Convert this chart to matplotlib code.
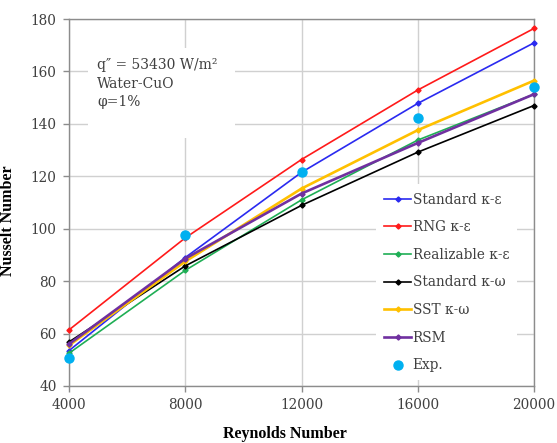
import matplotlib
matplotlib.use("Agg")
import matplotlib.pyplot as plt
from matplotlib.patches import Rectangle

# Reynolds numbers and Nusselt numbers
reynolds = [4000, 8000, 12000, 16000, 20000]
std_ke = [53.5, 89.0, 121.5, 147.8, 170.9]
rng_ke = [61.4, 96.5, 126.4, 152.9, 176.4]
real_ke = [52.5, 84.1, 111.0, 133.8, 151.3]
std_kw = [56.8, 85.8, 108.9, 129.2, 147.0]
sst_kw = [55.5, 87.5, 115.3, 137.6, 156.5]
rsm = [56.0, 88.6, 113.4, 132.7, 151.3]
exp_nu = [50.8, 97.6, 121.5, 142.3, 154.1]

series = [
    ("Standard κ-ε", std_ke, "#2a2af0", 1.2),
    ("RNG κ-ε", rng_ke, "#ff1a1a", 1.2),
    ("Realizable κ-ε", real_ke, "#1fae55", 1.2),
    ("Standard κ-ω", std_kw, "#000000", 1.2),
    ("SST κ-ω", sst_kw, "#ffc000", 1.9),
    ("RSM", rsm, "#7030a0", 1.9),
]

serif = ["DejaVu Serif", "DejaVu Sans"]
txt_col = "#404040"

fig = plt.figure(figsize=(5.57, 4.43), dpi=100)
ax = fig.add_axes([0.1239, 0.1287, 0.8348, 0.8284])

for label, vals, col, lw in series:
    ax.plot(reynolds, vals, color=col, lw=lw, marker="D", ms=2.6,
            label=label, zorder=3, clip_on=False)
ax.plot(reynolds, exp_nu, ls="none", marker="o", ms=6.5, color="#00b0f0",
        label="Exp.", zorder=4, clip_on=False)

ax.set_xlim(4000, 20000)
ax.set_ylim(40, 180)
ax.set_xticks(reynolds)
ax.set_yticks(range(40, 181, 20))
ax.grid(True, color="#d0d0d0", lw=1.0, zorder=0)
ax.set_axisbelow(True)
for s in ax.spines.values():
    s.set_color("#8c8c8c")
    s.set_linewidth(1.0)
ax.tick_params(direction="out", length=4, color="#8c8c8c", width=1.0,
               labelcolor=txt_col, labelsize=9.8, pad=5)
for lab in ax.get_xticklabels() + ax.get_yticklabels():
    lab.set_family(serif)

# white patch behind the annotation
ax.add_patch(Rectangle((0.041, 0.676), 0.316, 0.245, transform=ax.transAxes,
                       facecolor="white", edgecolor="none", zorder=1))
ax.text(0.0602, 0.874, "q″ = 53430 W/m²", transform=ax.transAxes,
        family=serif, fontsize=10, color=txt_col, va="center", zorder=2)
ax.text(0.0602, 0.824, "Water-CuO", transform=ax.transAxes,
        family=serif, fontsize=10, color=txt_col, va="center", zorder=2)
ax.text(0.0602, 0.774, "φ=1%", transform=ax.transAxes,
        family=serif, fontsize=10, color=txt_col, va="center", zorder=2)

leg = ax.legend(loc="lower left", bbox_to_anchor=(0.66, 0.015),
                prop={"family": serif, "size": 9.8}, frameon=True,
                handlelength=2.0, handletextpad=0.1, labelspacing=1.0,
                borderpad=0.6, borderaxespad=0.0)
leg.get_frame().set_facecolor("white")
leg.get_frame().set_edgecolor("none")
leg.get_frame().set_alpha(1.0)
for t in leg.get_texts():
    t.set_color(txt_col)

ax.set_xlabel("Reynolds Number", family="Liberation Serif",
              fontweight="bold", fontsize=11.5)
ax.xaxis.set_label_coords(0.465, -0.11)
ax.set_ylabel("Nusselt Number", family="Liberation Serif",
              fontweight="bold", fontsize=11.5)
ax.yaxis.set_label_coords(-0.115, 0.45)

fig.savefig("out.png", dpi=100)
